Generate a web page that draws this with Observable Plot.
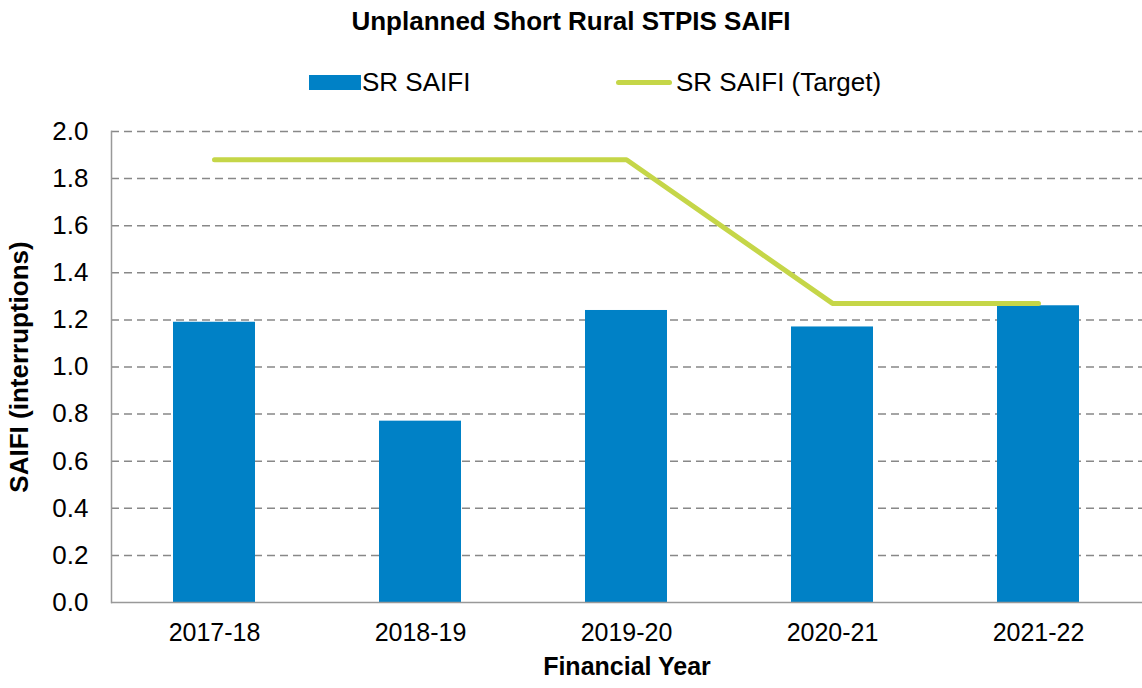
<!DOCTYPE html>
<html>
<head>
<meta charset="utf-8">
<script src="https://cdn.jsdelivr.net/npm/d3@7"></script>
<script src="https://cdn.jsdelivr.net/npm/@observablehq/plot@0.6"></script>
<style>
  body { margin: 0; background: #fff; font-family: "Liberation Sans", Arial, sans-serif; }
  #title { height: 46px; line-height: 42px; text-align: center; font-weight: bold; font-size: 26px; color: #000; }
  #legend { height: 59px; position: relative; font-size: 26px; color: #000; }
  .lg { position: absolute; top: 21px; display: flex; align-items: center; }
  .sw-bar { width: 52px; height: 15px; background: #0081C6; margin-right: 1px; }
  .sw-line { width: 56px; height: 5px; border-radius: 3px; background: #C5D648; margin-right: 4px; }
  svg [aria-label="x-axis label"] text, svg [aria-label="y-axis label"] text { font-weight: bold; }
  svg [aria-label="x-axis tick label"] text, svg [aria-label="x-axis label"] text { font-size: 25px; }
</style>
</head>
<body>
<div id="title">Unplanned Short Rural STPIS SAIFI</div>
<div id="legend">
  <div class="lg" style="left:309px"><div class="sw-bar"></div><span>SR SAIFI</span></div>
  <div class="lg" style="left:616px"><div class="sw-line"></div><span>SR SAIFI (Target)</span></div>
</div>
<div id="chart"></div>
<script>
const years = ["2017-18", "2018-19", "2019-20", "2020-21", "2021-22"];
const saifi = [1.19, 0.77, 1.24, 1.17, 1.26];
const target = [1.88, 1.88, 1.88, 1.27, 1.27];
const yTicks = [0, 0.2, 0.4, 0.6, 0.8, 1.0, 1.2, 1.4, 1.6, 1.8, 2.0];

const data = years.map((y, i) => ({year: y, saifi: saifi[i], target: target[i]}));

const chart = Plot.plot({
  width: 1142,
  height: 583,
  marginTop: 26,
  marginBottom: 86,
  marginLeft: 111,
  marginRight: 0,
  style: {fontFamily: '"Liberation Sans", Arial, sans-serif', fontSize: "26px", color: "#000", background: "#fff"},
  x: {domain: years, paddingInner: 0.6, paddingOuter: 0.3, label: "Financial Year", labelAnchor: "center", labelArrow: "none", tickSize: 0, tickPadding: 21, labelOffset: 72},
  y: {domain: [0, 2], ticks: yTicks, tickFormat: d3.format(".1f"), label: "SAIFI (interruptions)", labelAnchor: "center", labelArrow: "none", tickSize: 0, tickPadding: 23, labelOffset: 102},
  marks: [
    Plot.gridY(yTicks.filter(d => d > 0), {stroke: "#888", strokeOpacity: 1, strokeWidth: 1.5, strokeDasharray: "8,5"}),
    Plot.barY(data, {x: "year", y: "saifi", fill: "#0081C6"}),
    Plot.frame({anchor: "left", stroke: "#999", strokeWidth: 1.5}),
    Plot.ruleY([0], {stroke: "#999", strokeWidth: 1.5}),
    Plot.line(data, {x: "year", y: "target", stroke: "#C5D648", strokeWidth: 5, strokeLinecap: "round", strokeLinejoin: "round"})
  ]
});
document.getElementById("chart").appendChild(chart);
</script>
</body>
</html>
